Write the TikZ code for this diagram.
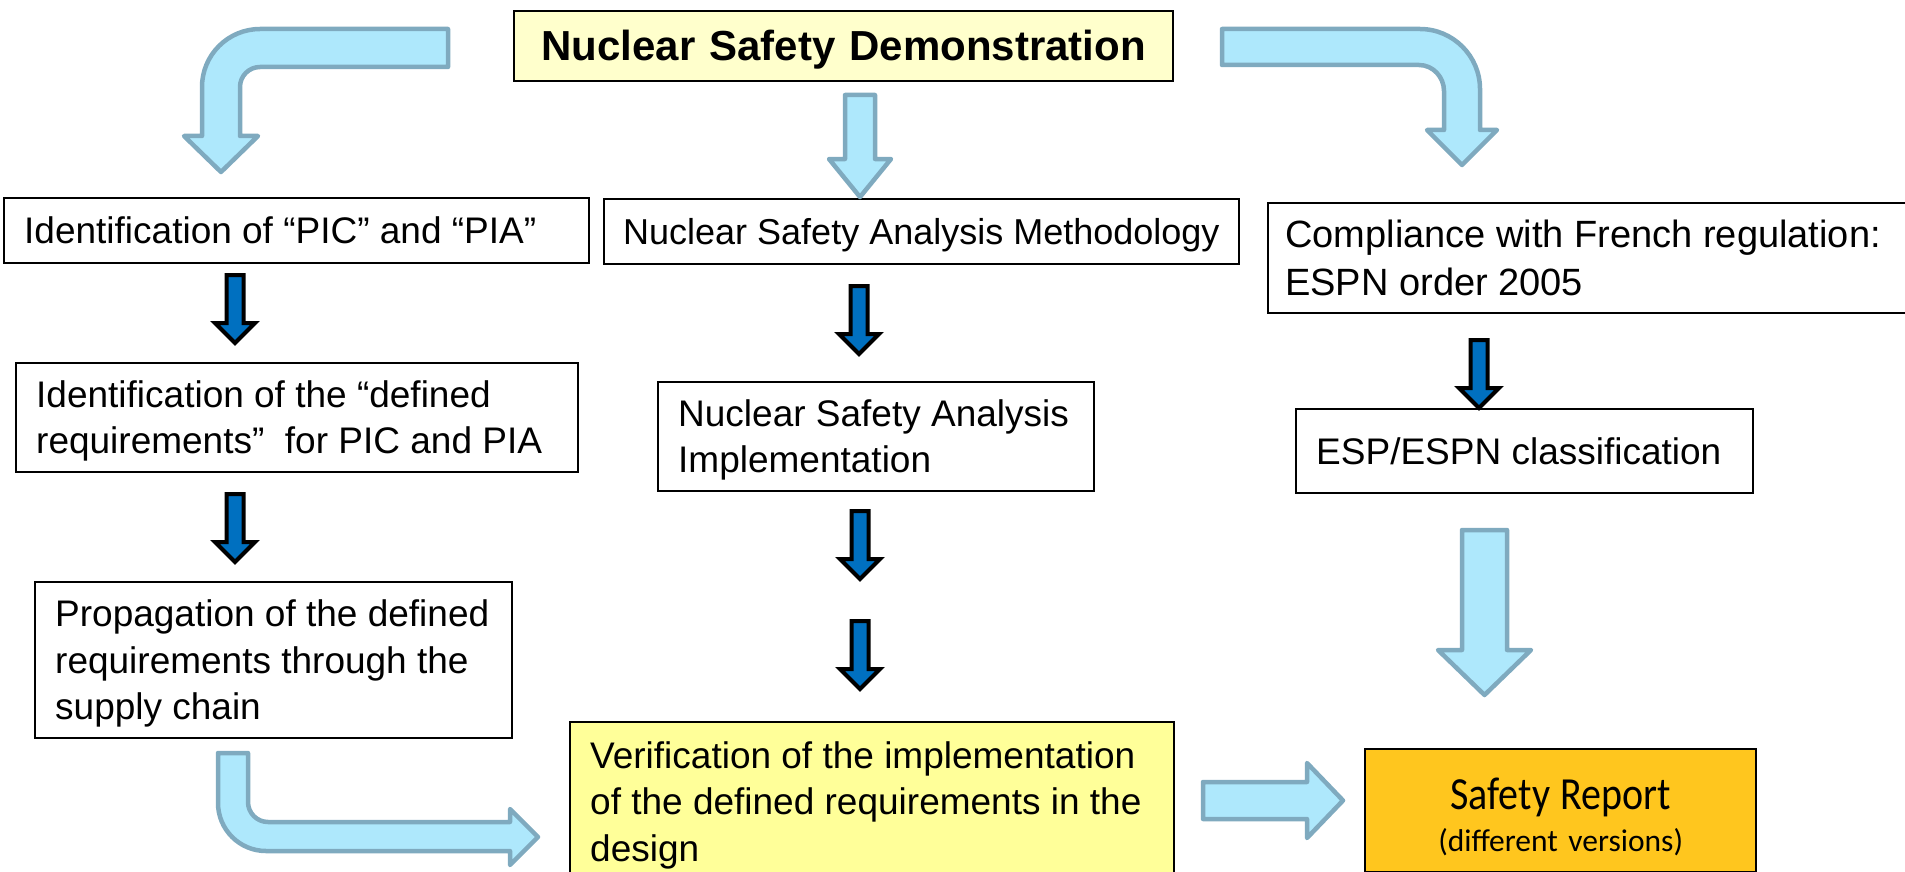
\documentclass[tikz,border=0pt]{standalone}
\usepackage{fontspec}
\setmainfont{Liberation Sans}
\newfontfamily\reportfont{Carlito}
\newfontfamily\reporttitlefont[FakeStretch=0.87]{Carlito}
\definecolor{arrowfill}{HTML}{AEE8FC}
\definecolor{arrowline}{HTML}{7FAABF}
\definecolor{darkblue}{HTML}{0070C0}
\definecolor{paleyellow}{HTML}{FFFFCC}
\definecolor{lightyellow}{HTML}{FFFF99}
\definecolor{reportgold}{HTML}{FFC61E}
\tikzset{
  lightarrow/.style={fill=arrowfill, draw=arrowline, line width=4.5pt, line join=round},
  downarrow/.pic={
    \draw[fill=darkblue, draw=black, line width=4pt, line join=miter]
      (-8.5,0) -- (-8.5,48) -- (-20,48) -- (0,68) -- (20,48) -- (8.5,48) -- (8.5,0) -- cycle;},
  box/.style={draw=black, line width=2.4pt, anchor=north west, inner ysep=0pt,
    align=flush left, text height=33.5pt, font=\fontsize{37}{46.5}\selectfont},
  oneline/.style={text depth=7.8pt},
  twolines/.style={text depth=54.3pt},
  threelines/.style={text depth=100.8pt},
}
\begin{document}
\begin{tikzpicture}[x=1pt,y=-1pt]
\useasboundingbox (0,0) rectangle (1905,872);
\clip (0,0) rectangle (1905,872);

% title
\node[box, fill=paleyellow, align=center, inner xsep=0pt, text width=659pt,
  minimum width=659pt, minimum height=70pt, text height=37.5pt, text depth=8.9pt,
  font=\fontsize{42}{50}\selectfont\bfseries] (title) at (513,10) {\mbox{Nuclear Safety Demonstration}};

% first row
\node[box, oneline, inner xsep=20pt, text width=545pt, minimum width=585pt, minimum height=65pt]
  (pic) at (3,197) {\mbox{Identification of “PIC” and “PIA”}};
\node[box, oneline, inner xsep=19pt, text width=597pt, minimum width=635pt, minimum height=65pt,
  font=\fontsize{36}{45}\selectfont]
  (method) at (603,198) {\mbox{Nuclear Safety Analysis Methodology}};
\node[box, inner xsep=17pt, text width=626pt, minimum width=660pt, minimum height=110pt,
  text height=34.4pt, text depth=55.7pt, font=\fontsize{38}{47.5}\selectfont]
  (comply) at (1267,202) {\mbox{Compliance with French regulation:}\\\mbox{ESPN order 2005}};

% second row
\node[box, twolines, inner xsep=20pt, text width=522pt, minimum width=562pt, minimum height=109pt]
  (defreq) at (15,362) {\mbox{Identification of the “defined}\\\mbox{requirements” \ for PIC and PIA}};
\node[box, twolines, inner xsep=20pt, text width=396pt, minimum width=436pt, minimum height=109pt]
  (implem) at (657,381) {\mbox{Nuclear Safety Analysis}\\\mbox{Implementation}};
\node[box, oneline, inner xsep=20pt, text width=417pt, minimum width=457pt, minimum height=84pt]
  (classif) at (1295,408) {\mbox{ESP/ESPN classification}};

% third row
\node[box, threelines, inner xsep=20pt, text width=437pt, minimum width=477pt, minimum height=156pt]
  (propag) at (34,581) {\mbox{Propagation of the defined}\\\mbox{requirements through the}\\\mbox{supply chain}};
\node[box, threelines, fill=lightyellow, inner xsep=20pt, text width=564pt, minimum width=604pt, minimum height=159pt]
  (verif) at (569,721) {\mbox{Verification of the implementation}\\\mbox{of the defined requirements in the}\\\mbox{design}};
\node[box, fill=reportgold, align=center, inner xsep=0pt, text width=391pt,
  minimum width=391pt, minimum height=123pt, text height=47pt, text depth=50pt,
  font=\reportfont\fontsize{31.5}{38}\selectfont]
  (report) at (1364,748) {{\reporttitlefont\fontsize{46}{50}\selectfont Safety Report}\\[4pt](different versions)};

% bent arrow from the title to the left column
\draw[lightarrow] (448,29) -- (260,29) .. controls (228,29) and (202,55) .. (202,87)
  -- (202,136) -- (184,136) -- (221,172) -- (258,136) -- (240,136) -- (240,87)
  .. controls (240,76) and (249,67) .. (260,67) -- (448,67) -- cycle;
% bent arrow from the title to the right column
\draw[lightarrow] (1222,29) -- (1420,29) .. controls (1453,29) and (1480,56) .. (1480,89)
  -- (1480,130) -- (1497,130) -- (1462,165) -- (1427,130) -- (1444,130) -- (1444,91)
  .. controls (1444,77) and (1433,65) .. (1419,65) -- (1222,65) -- cycle;
% straight arrow from the title to the middle column
\draw[lightarrow] (845,95) -- (845,159) -- (829,159) -- (860,197) -- (891,159)
  -- (875,159) -- (875,95) -- cycle;
% bent arrow from the supply chain box to the verification box
\draw[lightarrow] (218,753) -- (218,803) .. controls (218,829.5) and (239.5,851) .. (266,851)
  -- (510,851) -- (510,865) -- (538,837) -- (510,809) -- (510,822) -- (268,822)
  .. controls (257,822) and (248,813) .. (248,802) -- (248,753) -- cycle;
% arrow from the verification box to the safety report
\draw[lightarrow] (1203,782) -- (1307,782) -- (1307,763) -- (1343,800.5) -- (1307,838)
  -- (1307,819) -- (1203,819) -- cycle;
% arrow from the classification to the safety report
\draw[lightarrow] (1462,530) -- (1462,650) -- (1438,650) -- (1484.5,695) -- (1531,650)
  -- (1507,650) -- (1507,530) -- cycle;

% small dark arrows between the boxes
\pic at (235,275) {downarrow};
\pic at (235,494) {downarrow};
\pic at (859,286) {downarrow};
\pic at (860,511) {downarrow};
\pic at (860,621) {downarrow};
\pic at (1479,340) {downarrow};
\end{tikzpicture}
\end{document}
